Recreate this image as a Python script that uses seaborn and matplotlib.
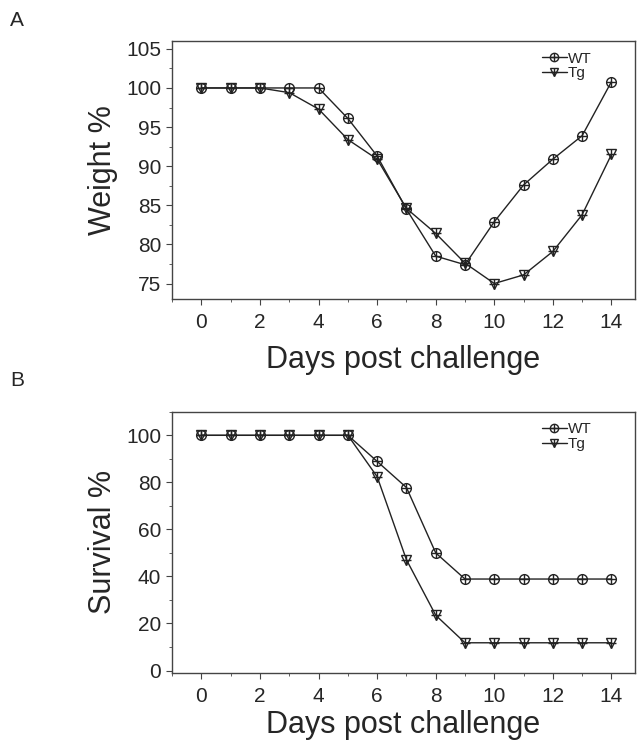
import numpy as np
import pandas as pd
import matplotlib
matplotlib.use("Agg")
import matplotlib.pyplot as plt
import seaborn as sns
from matplotlib.lines import Line2D
from matplotlib.legend_handler import HandlerTuple
from matplotlib.ticker import MultipleLocator

days = list(range(15))
weight_wt = [100, 100, 100, 100, 100, 96.1, 91.3, 84.5, 78.5, 77.4, 82.9, 87.6, 90.9, 93.9, 100.8]
weight_tg = [100, 100, 100, 99.4, 97.3, 93.4, 90.9, 84.6, 81.4, 77.6, 75.0, 76.1, 79.1, 83.8, 91.5]
surv_wt = [100, 100, 100, 100, 100, 100, 88.9, 77.8, 50.0, 38.9, 38.9, 38.9, 38.9, 38.9, 38.9]
surv_tg = [100, 100, 100, 100, 100, 100, 82.4, 47.1, 23.5, 11.8, 11.8, 11.8, 11.8, 11.8, 11.8]
groups = ["WT", "Tg"]

sns.set_style("white")
plt.rcParams['font.family'] = ['Liberation Sans', 'DejaVu Sans']

fig = plt.figure(figsize=(6.4, 7.46), dpi=100)
axA = fig.add_axes([0.269, 0.599, 0.723, 0.346])
axB = fig.add_axes([0.269, 0.098, 0.723, 0.350])

col = "#222222"
mk = {"WT": "o", "Tg": "v"}

def draw(ax, wt, tg, xlabelpad):
    df = pd.DataFrame({"day": days * 2, "val": wt + tg,
                       "group": ["WT"] * len(days) + ["Tg"] * len(days)})
    sns.lineplot(data=df, x="day", y="val", style="group", style_order=groups,
                 markers=mk, dashes=False, color=col, lw=1.0, ax=ax,
                 markersize=7, markerfacecolor="none", markeredgecolor=col,
                 markeredgewidth=1.0, legend=False)
    sns.scatterplot(data=df, x="day", y="val", marker="+", color=col, s=60,
                    linewidth=1.0, ax=ax, legend=False, zorder=5)
    for s in ax.spines.values():
        s.set_visible(True)
        s.set_color("#444444")
        s.set_linewidth(1.0)
    ax.set_xlim(-1, 14.8)
    ax.xaxis.set_major_locator(MultipleLocator(2))
    ax.xaxis.set_minor_locator(MultipleLocator(1))
    ax.tick_params(axis="both", which="both", direction="out", bottom=True, left=True,
                   top=False, right=False, color="#444444")
    ax.tick_params(axis="both", which="major", length=4, labelsize=15, pad=4)
    ax.tick_params(axis="x", which="major", pad=6)
    ax.tick_params(axis="both", which="minor", length=2.5)
    ax.set_xlabel("Days post challenge", fontsize=22, labelpad=xlabelpad)
    h_wt = (Line2D([], [], color=col, lw=1.0, marker="o", markersize=6, mfc="none", mec=col),
            Line2D([], [], color=col, lw=0, marker="+", markersize=6, mec=col))
    h_tg = (Line2D([], [], color=col, lw=1.0, marker="v", markersize=6, mfc="none", mec=col),
            Line2D([], [], color=col, lw=0, marker="+", markersize=6, mec=col))
    ax.legend([h_wt, h_tg], groups, handler_map={tuple: HandlerTuple(ndivide=1, pad=0)},
              loc="upper right", bbox_to_anchor=(0.93, 1.0), frameon=False, fontsize=11,
              handlelength=1.6, handletextpad=0.1, labelspacing=0.05, borderaxespad=0.3)

draw(axA, weight_wt, weight_tg, 9)
axA.set_ylim(73, 106)
axA.yaxis.set_major_locator(MultipleLocator(5))
axA.yaxis.set_minor_locator(MultipleLocator(2.5))
axA.set_ylabel("Weight %", fontsize=22, labelpad=6)

draw(axB, surv_wt, surv_tg, 3)
axB.set_ylim(-1, 110)
axB.yaxis.set_minor_locator(MultipleLocator(10))
axB.set_yticks([0, 20, 40, 60, 80, 100])
axB.set_ylabel("Survival %", fontsize=22, labelpad=6)

fig.text(0.016, 0.985, "A", fontsize=15, va="top", ha="left")
fig.text(0.016, 0.503, "B", fontsize=15, va="top", ha="left")

fig.savefig("out.png", dpi=100)
